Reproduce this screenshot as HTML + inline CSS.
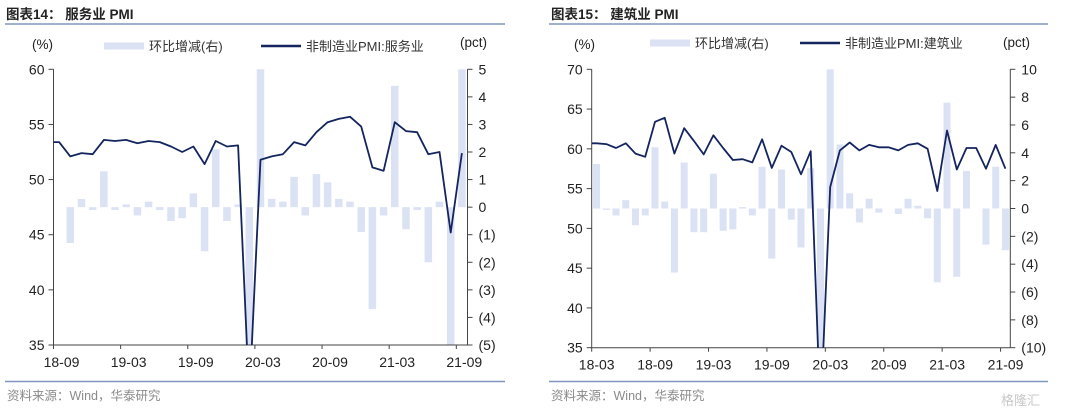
<!DOCTYPE html>
<html><head><meta charset="utf-8">
<style>
html,body{margin:0;padding:0;background:#fff;width:1080px;height:414px;overflow:hidden;position:relative}
svg{display:block;position:absolute;left:0;top:0;overflow:hidden}
text{font-family:"Liberation Sans","Noto Sans CJK SC",sans-serif}
</style></head>
<body>
<svg id="root" width="1080" height="414" viewBox="0 0 1080 414">
<g>
<text x="6" y="19" font-size="13.5" font-weight="bold" fill="#222">图表14：  服务业 PMI</text>
<line x1="5" y1="24" x2="505" y2="24" stroke="#8196bf" stroke-width="1.5"/>
<line x1="5" y1="381.5" x2="505" y2="381.5" stroke="#8196bf" stroke-width="1.5"/>
<text x="7" y="400" font-size="12.5" fill="#8a8a8a">资料来源：Wind，华泰研究</text>
</g>
<g>
<text x="551" y="19" font-size="13.5" font-weight="bold" fill="#222">图表15：  建筑业 PMI</text>
<line x1="549" y1="24" x2="1048" y2="24" stroke="#8196bf" stroke-width="1.5"/>
<line x1="549" y1="381.5" x2="1048" y2="381.5" stroke="#8196bf" stroke-width="1.5"/>
<text x="551" y="400" font-size="12.5" fill="#8a8a8a">资料来源：Wind，华泰研究</text>
<text x="1040" y="405" font-size="13" fill="#c8c8c8" text-anchor="end">格隆汇</text>
</g>
</svg>
<script>
// ---- Chart 14: services PMI ----
const svcCats = ['18-09','18-10','18-11','18-12','19-01','19-02','19-03','19-04','19-05','19-06','19-07','19-08','19-09','19-10','19-11','19-12','20-01','20-02','20-03','20-04','20-05','20-06','20-07','20-08','20-09','20-10','20-11','20-12','21-01','21-02','21-03','21-04','21-05','21-06','21-07','21-08','21-09'];
const svcPmi = [53.4,52.1,52.4,52.3,53.6,53.5,53.6,53.3,53.5,53.4,53.0,52.5,53.0,51.4,53.5,53.0,53.1,30.1,51.8,52.1,52.3,53.4,53.1,54.3,55.2,55.5,55.7,54.8,51.1,50.8,55.2,54.4,54.3,52.3,52.5,45.2,52.4];
const svcDiff = [0,-1.3,0.3,-0.1,1.3,-0.1,0.1,-0.3,0.2,-0.1,-0.5,-0.4,0.5,-1.6,2.1,-0.5,0.1,-23.0,21.7,0.3,0.2,1.1,-0.3,1.2,0.9,0.3,0.2,-0.9,-3.7,-0.3,4.4,-0.8,-0.1,-2.0,0.2,-7.3,7.2];
const svcLeftTicks = [35,40,45,50,55,60];
const svcRightTicks = [-5,-4,-3,-2,-1,0,1,2,3,4,5];
const svcXLabels = ['18-09','19-03','19-09','20-03','20-09','21-03','21-09'];
// ---- Chart 15: construction PMI ----
const conCats = ['18-03','18-04','18-05','18-06','18-07','18-08','18-09','18-10','18-11','18-12','19-01','19-02','19-03','19-04','19-05','19-06','19-07','19-08','19-09','19-10','19-11','19-12','20-01','20-02','20-03','20-04','20-05','20-06','20-07','20-08','20-09','20-10','20-11','20-12','21-01','21-02','21-03','21-04','21-05','21-06','21-07','21-08','21-09'];
const conPmi = [60.7,60.6,60.1,60.7,59.4,59.0,63.4,63.9,59.4,62.6,61.0,59.3,61.7,60.1,58.6,58.7,58.3,61.2,57.6,60.4,59.6,56.8,59.7,26.6,55.2,59.8,60.8,59.8,60.5,60.2,60.2,59.8,60.5,60.7,60.0,54.7,62.3,57.4,60.1,60.1,57.5,60.5,57.5];
const conDiff = [3.2,-0.1,-0.5,0.6,-1.2,-0.5,4.4,0.5,-4.6,3.3,-1.7,-1.7,2.5,-1.6,-1.5,0.1,-0.5,3.0,-3.6,2.8,-0.8,-2.8,2.9,-33.0,28.6,4.6,1.1,-1.0,0.7,-0.3,0.0,-0.4,0.7,0.2,-0.7,-5.3,7.6,-4.9,2.7,0.0,-2.6,3.0,-3.0];
const conLeftTicks = [35,40,45,50,55,60,65,70];
const conRightTicks = [-10,-8,-6,-4,-2,0,2,4,6,8,10];
const conXLabels = ['18-03','18-09','19-03','19-09','20-03','20-09','21-03','21-09'];

const NS='http://www.w3.org/2000/svg';
const root=document.getElementById('root');
function mk(tag,attrs,parent){const e=document.createElementNS(NS,tag);for(const k in attrs)e.setAttribute(k,attrs[k]);(parent||root).appendChild(e);return e;}
function fmtR(v){return v<0?'('+Math.abs(v)+')':String(v);}

function drawChart(id,cats,pmi,diff,lt,rt,xl,cfg){
  const g=mk('g',{});
  
  
  const L=cfg.left,R=cfg.right,T=cfg.top,B=cfg.bottom;
  const n=cats.length,cw=(R-L)/n;
  const x=i=>L+(i+0.5)*cw;
  const clampY=y=>Math.max(T,Math.min(B,y));
  const yl=v=>B-(v-lt[0])/(lt[lt.length-1]-lt[0])*(B-T);
  const yr=v=>B-(v-rt[0])/(rt[rt.length-1]-rt[0])*(B-T);
  const cp=mk('clipPath',{id:id+'-clip'},g);
  mk('rect',{x:L,y:T,width:R-L,height:B-T},cp);
  const bg=mk('g',{},g);
  
  
  diff.forEach((d,i)=>{
    const y0=clampY(yr(0)),y1=clampY(yr(d));
    const r=mk('rect',{x:x(i)-cfg.bw/2,y:Math.min(y0,y1),width:cfg.bw,height:Math.abs(y1-y0),fill:'#dbe2f4'},bg);
    
    
  });
  const ax=mk('g',{stroke:'#444','stroke-width':1,fill:'none'},g);
  
  
  mk('line',{x1:L,y1:T,x2:L,y2:B},ax);
  mk('line',{x1:R,y1:T,x2:R,y2:B},ax);
  mk('line',{x1:L,y1:B,x2:R,y2:B},ax);
  lt.forEach(v=>{mk('line',{x1:L-5,y1:yl(v),x2:L,y2:yl(v)},ax);
    const t=mk('text',{x:L-9,y:yl(v)+5,'font-size':14,fill:'#222','text-anchor':'end',stroke:'none'},g);t.textContent=v;
    });
  rt.forEach(v=>{mk('line',{x1:R,y1:yr(v),x2:R+5,y2:yr(v)},ax);
    const t=mk('text',{x:R+11,y:yr(v)+5,'font-size':14,fill:'#222',stroke:'none'},g);t.textContent=fmtR(v);
    });
  xl.forEach(lb=>{const i=cats.indexOf(lb);const xx=L+i*cw;
    mk('line',{x1:xx,y1:B,x2:xx,y2:B+4},ax);
    const t=mk('text',{x:xx+cfg.xoff,y:B+22,'font-size':14,fill:'#222','text-anchor':'middle'},g);t.textContent=lb;
    });
  let d='M'+L+','+clampY(yl(pmi[0])).toFixed(1);
  pmi.forEach((v,i)=>{d+=' L'+x(i).toFixed(1)+','+yl(v).toFixed(1);});
  const p=mk('path',{d:d,fill:'none',stroke:'#14245e','stroke-width':1.8,'stroke-linejoin':'round','clip-path':'url(#'+id+'-clip)'},g);
  
  
  const lg=mk('g',{},g);
  
  
  const u1=mk('text',{x:cfg.pctL,y:49,'font-size':13.5,fill:'#222'},lg);u1.textContent='(%)';
  
  const u2=mk('text',{x:cfg.pctR,y:47,'font-size':13.5,fill:'#222'},lg);u2.textContent='(pct)';
  
  const sw=mk('rect',{x:cfg.lg1,y:cfg.lgy-3.5,width:40,height:7,fill:'#dbe2f4'},lg);
  
  const t1=mk('text',{x:cfg.lg1+45,y:cfg.lgy+5,'font-size':13,fill:'#333'},lg);t1.textContent='环比增减(右)';
  
  const sl=mk('line',{x1:cfg.lg2,y1:cfg.lgy,x2:cfg.lg2+40,y2:cfg.lgy,stroke:'#14245e','stroke-width':2.5},lg);
  
  const t2=mk('text',{x:cfg.lg2+45,y:cfg.lgy+5,'font-size':13,fill:'#333'},lg);t2.textContent=cfg.name;
  
}
drawChart('chart-14-services',svcCats,svcPmi,svcDiff,svcLeftTicks,svcRightTicks,svcXLabels,
 {left:53.5,right:467.5,top:69.3,bottom:345,bw:7.5,xoff:8,pctL:32,pctR:460,lg1:104,lg2:261,lgy:46,name:'非制造业PMI:服务业'});
drawChart('chart-15-construction',conCats,conPmi,conDiff,conLeftTicks,conRightTicks,conXLabels,
 {left:591.7,right:1010.3,top:69.3,bottom:347.7,bw:7,xoff:5,pctL:574,pctR:1003,lg1:650,lg2:800,lgy:43,name:'非制造业PMI:建筑业'});
</script>
</body></html>
